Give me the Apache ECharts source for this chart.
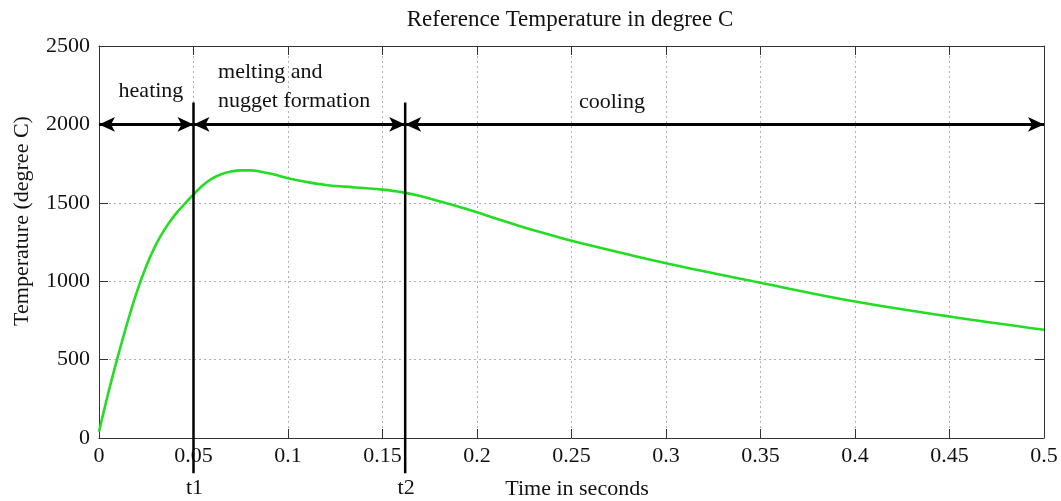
<!DOCTYPE html>
<html>
<head>
<meta charset="utf-8">
<script src="https://cdn.jsdelivr.net/npm/echarts@6/dist/echarts.min.js"></script>
<style>html,body{margin:0;padding:0;background:#fff;}#c{width:1061px;height:501px;}</style>
</head>
<body>
<div id="c"></div>
<script>
// ---- data ----
const timeSec = [0, 0.005, 0.01, 0.015, 0.02, 0.025, 0.03, 0.035, 0.04, 0.045, 0.05, 0.055, 0.06, 0.065, 0.07, 0.075, 0.08, 0.085, 0.09, 0.095, 0.1, 0.11, 0.12, 0.13, 0.14, 0.15, 0.16, 0.17, 0.18, 0.19, 0.2, 0.21, 0.22, 0.23, 0.24, 0.25, 0.275, 0.3, 0.35, 0.4, 0.45, 0.5];
const tempC   = [40, 290, 520, 735, 930, 1095, 1230, 1335, 1420, 1489, 1553, 1612, 1656, 1684, 1700, 1707, 1707, 1700, 1688, 1673, 1657, 1633, 1614, 1603, 1594, 1584, 1568, 1543, 1510, 1476, 1439, 1400, 1362, 1325, 1291, 1258, 1185, 1115, 990, 870, 775, 690];
const markerTimes = [0.05, 0.162];
const markerNames = ['t1', 't2'];
const markerTop = 2140;
const markerBottom = -225;
const phaseStart = [0, 0.05, 0.162];
const phaseEnd = [0.05, 0.162, 0.5];
const phaseLevel = 2000;
const noteText = ['heating', 'melting and', 'nugget formation', 'cooling'];
const noteTime = [0.0275, 0.063, 0.063, 0.2714];
const noteTemp = [2210, 2331, 2146, 2140];
const noteAlign = ['center', 'left', 'left', 'center'];
const xTicks = [0, 0.05, 0.1, 0.15, 0.2, 0.25, 0.3, 0.35, 0.4, 0.45, 0.5];
const yTicks = [0, 500, 1000, 1500, 2000, 2500];

const FONT = "'Liberation Serif','Times New Roman',serif";
const chart = echarts.init(document.getElementById('c'), null, {renderer: 'canvas'});

function axLine() { return {show: true, onZero: false, lineStyle: {color: '#333', width: 1}}; }
function axTick() { return {show: true, inside: true, length: 9, lineStyle: {color: '#333', width: 1}}; }
function grid() { return {show: true, lineStyle: {color: '#b0b0b0', type: [2, 3], width: 1}}; }

const option = {
  backgroundColor: '#fff',
  animation: false,
  grid: {left: 99, right: 17, top: 46, bottom: 63},
  xAxis: [
    {
      type: 'value', min: xTicks[0], max: xTicks[xTicks.length - 1], interval: 0.05,
      axisLine: axLine(), axisTick: axTick(), splitLine: grid(),
      axisLabel: {color: '#111', fontFamily: FONT, fontSize: 22, margin: 7,
        formatter: v => String(+v.toFixed(2))}
    },
    {
      type: 'value', position: 'top', min: xTicks[0], max: xTicks[xTicks.length - 1], interval: 0.05,
      axisLine: axLine(), axisTick: axTick(), splitLine: {show: false}, axisLabel: {show: false}
    }
  ],
  yAxis: [
    {
      type: 'value', min: yTicks[0], max: yTicks[yTicks.length - 1], interval: 500,
      axisLine: axLine(), axisTick: axTick(), splitLine: grid(),
      axisLabel: {color: '#111', fontFamily: FONT, fontSize: 22, margin: 9,
        formatter: v => String(v)}
    },
    {
      type: 'value', position: 'right', min: yTicks[0], max: yTicks[yTicks.length - 1], interval: 500,
      axisLine: axLine(), axisTick: axTick(), splitLine: {show: false}, axisLabel: {show: false}
    }
  ],
  graphic: [
    {type: 'text', x: 570, y: 20, style: {text: 'Reference Temperature in degree C', font: '23px ' + FONT, fill: '#111', align: 'center', verticalAlign: 'middle'}},
    {type: 'text', x: 577, y: 489, style: {text: 'Time in seconds', font: '22px ' + FONT, fill: '#111', align: 'center', verticalAlign: 'middle'}},
    {type: 'text', x: 22, y: 221, rotation: Math.PI / 2, style: {text: 'Temperature (degree C)', font: '22px ' + FONT, fill: '#111', align: 'center', verticalAlign: 'middle'}}
  ],
  series: [
    {
      type: 'line', name: 'temp', data: timeSec.map((t, i) => [t, tempC[i]]),
      smooth: 0.4, showSymbol: false, symbol: 'none',
      lineStyle: {color: '#22dd22', width: 2.6}, z: 3,
      markLine: {
        silent: true, symbol: ['arrow', 'arrow'], symbolSize: [11, 16],
        lineStyle: {color: '#000', width: 3, type: 'solid'},
        label: {show: false},
        data: phaseStart.map((s, i) => [{coord: [s, phaseLevel]}, {coord: [phaseEnd[i], phaseLevel]}])
      }
    },
    {
      type: 'custom', name: 'markers', clip: false, z: 5,
      data: markerTimes.map((t, i) => [t, i]),
      renderItem: function (params, api) {
        const t = api.value(0);
        const i = api.value(1);
        const p1 = api.coord([t, markerTop]);
        const p2 = api.coord([t, markerBottom]);
        return {type: 'group', children: [
          {type: 'line', shape: {x1: p1[0], y1: p1[1], x2: p2[0], y2: p2[1]}, style: {stroke: '#000', lineWidth: 2.5}},
          {type: 'text', x: p2[0] + 1, y: p2[1] + 15, style: {text: markerNames[i], font: '22px ' + FONT, fill: '#111', align: 'center', verticalAlign: 'middle'}}
        ]};
      }
    },
    {
      type: 'custom', name: 'notes', clip: false, z: 4,
      data: noteText.map((s, i) => [noteTime[i], noteTemp[i], i]),
      renderItem: function (params, api) {
        const i = api.value(2);
        const p = api.coord([api.value(0), api.value(1)]);
        return {type: 'text', x: p[0], y: p[1], style: {text: noteText[i], font: '22px ' + FONT, fill: '#111', align: noteAlign[i], verticalAlign: 'middle'}};
      }
    }
  ]
};
chart.setOption(option);
</script>
</body>
</html>
